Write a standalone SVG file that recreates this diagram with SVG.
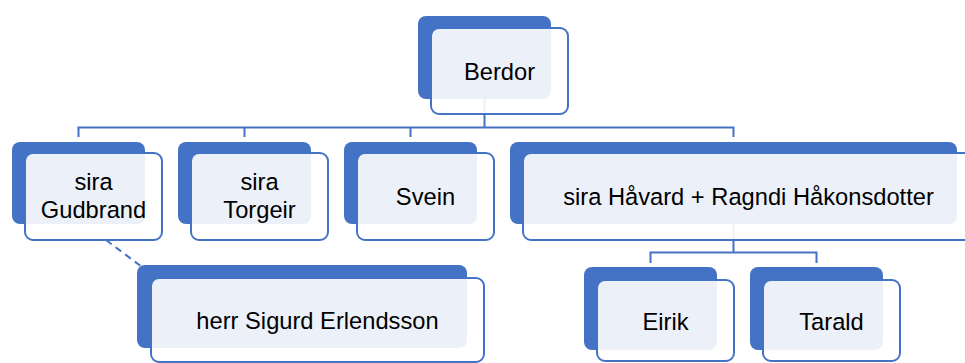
<svg xmlns="http://www.w3.org/2000/svg" width="965" height="363" viewBox="0 0 965 363">
  <style>
    .back { fill: #4472C4; }
    .front { fill: #FFFFFF; fill-opacity: 0.9; stroke: #4472C4; stroke-width: 2; }
    .conn { fill: none; stroke: #4472C4; stroke-width: 2; }
    .dash { fill: none; stroke: #4472C4; stroke-width: 2; stroke-dasharray: 7 5; }
    text { font-family: "Liberation Sans", Arial, sans-serif; font-size: 23.7px; fill: #000000; text-anchor: middle; }
  </style>
  <rect width="965" height="363" fill="#FFFFFF"/>
  <g id="connectors">
    <path class="conn" d="M484.5,57 V127.5 M78.5,137 V127.5 H733.5 V137 M244.5,127.5 V137 M410.5,127.5 V137"/>
    <path class="conn" d="M733.5,183 V252.5 M650.5,263 V252.5 H816.5 V263"/>
    <path class="dash" d="M106,240 L142,267"/>
  </g>
  <g id="node-berdor">
    <rect class="back" x="418" y="16" width="133" height="83" rx="8"/>
    <rect class="front" x="431" y="28" width="137" height="86" rx="8"/>
    <text x="499.5" y="79.5">Berdor</text>
  </g>
  <g id="node-gudbrand">
    <rect class="back" x="12" y="142" width="133" height="82" rx="8"/>
    <rect class="front" x="25" y="153" width="137" height="87" rx="8"/>
    <text x="93.5" y="190">sira</text>
    <text x="93.5" y="218">Gudbrand</text>
  </g>
  <g id="node-torgeir">
    <rect class="back" x="178" y="142" width="133" height="82" rx="8"/>
    <rect class="front" x="191" y="153" width="137" height="87" rx="8"/>
    <text x="259.5" y="190">sira</text>
    <text x="259.5" y="218">Torgeir</text>
  </g>
  <g id="node-svein">
    <rect class="back" x="344" y="142" width="133" height="82" rx="8"/>
    <rect class="front" x="357" y="153" width="137" height="87" rx="8"/>
    <text x="425.5" y="204.5">Svein</text>
  </g>
  <g id="node-havard">
    <rect class="back" x="510" y="142" width="447" height="82" rx="8"/>
    <rect class="front" x="523" y="153" width="450" height="87" rx="8"/>
    <text x="748.5" y="204.5">sira Håvard + Ragndi Håkonsdotter</text>
  </g>
  <g id="node-sigurd">
    <rect class="back" x="137" y="265" width="330" height="83" rx="8"/>
    <rect class="front" x="151" y="278" width="333" height="84" rx="8"/>
    <text x="317.5" y="328.5">herr Sigurd Erlendsson</text>
  </g>
  <g id="node-eirik">
    <rect class="back" x="584" y="267" width="133" height="83" rx="8"/>
    <rect class="front" x="597" y="280" width="137" height="81" rx="8"/>
    <text x="665.5" y="329.5">Eirik</text>
  </g>
  <g id="node-tarald">
    <rect class="back" x="750" y="267" width="133" height="83" rx="8"/>
    <rect class="front" x="763" y="280" width="137" height="81" rx="8"/>
    <text x="831.5" y="329.5">Tarald</text>
  </g>
</svg>
